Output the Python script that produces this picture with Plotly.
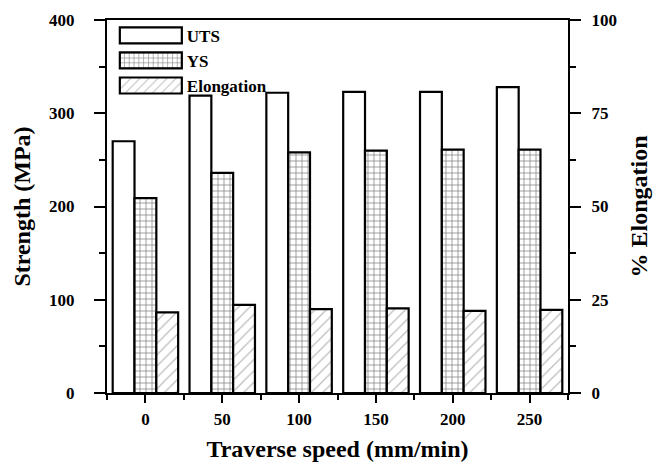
import plotly.graph_objects as go

speeds = [0, 50, 100, 150, 200, 250]
uts = [270, 319, 322, 323, 323, 328]
ys = [209, 236, 258, 260, 261, 261]
elong = [21.6, 23.6, 22.5, 22.7, 22.0, 22.3]

FONT = "Liberation Serif"
bw = 14.2

fig = go.Figure()
fig.add_trace(go.Bar(
    x=speeds, y=uts, name="UTS", width=bw, offset=-1.5 * bw,
    marker=dict(color="white", line=dict(color="black", width=2.2)),
    yaxis="y"))
fig.add_trace(go.Bar(
    x=speeds, y=ys, name="YS", width=bw, offset=-0.5 * bw,
    marker=dict(color="white", line=dict(color="black", width=2.2),
                pattern=dict(shape="+", fgcolor="#111", bgcolor="white", size=6, solidity=0.25)),
    yaxis="y"))
fig.add_trace(go.Bar(
    x=speeds, y=elong, name="Elongation", width=bw, offset=0.5 * bw,
    marker=dict(color="white", line=dict(color="black", width=2.2),
                pattern=dict(shape="/", fgcolor="#777", bgcolor="white", size=8, solidity=0.15)),
    yaxis="y2"))

axis_common = dict(showline=True, linecolor="black", linewidth=2, ticks="outside",
                   tickcolor="black", tickwidth=2, showgrid=False, zeroline=False,
                   automargin=False,
                   tickfont=dict(family=FONT, size=17, color="black", weight="bold"))

fig.update_layout(
    width=660, height=464,
    margin=dict(l=107, r=92, t=20, b=71),
    paper_bgcolor="white", plot_bgcolor="white",
    showlegend=True,
    legend=dict(x=0.017, y=1.006, xanchor="left", yanchor="top", itemwidth=62,
                bgcolor="rgba(0,0,0,0)", font=dict(family=FONT, size=17, color="black", weight="bold"),
                tracegroupgap=0),
    xaxis=dict(**axis_common, range=[-25, 275], tickvals=speeds, ticklen=8, mirror=True,
               ticklabelstandoff=2,
               minor=dict(dtick=25, tick0=0, ticks="outside", ticklen=5, tickwidth=2, tickcolor="black"),
               title=dict(text="Traverse speed (mm/min)", standoff=12,
                          font=dict(family=FONT, size=24, color="black", weight="bold"))),
    yaxis=dict(**axis_common, range=[0, 400], dtick=100, ticklen=11, ticklabelstandoff=16,
               minor=dict(dtick=50, ticks="outside", ticklen=6, tickwidth=2, tickcolor="black"),
               title=dict(text="Strength (MPa)", standoff=12,
                          font=dict(family=FONT, size=24, color="black", weight="bold"))),
    yaxis2=dict(**axis_common, range=[0, 100], dtick=25, ticklen=11, overlaying="y", side="right",
                ticklabelstandoff=7,
                minor=dict(dtick=12.5, ticks="outside", ticklen=6, tickwidth=2, tickcolor="black"),
                title=dict(text="% Elongation", standoff=14,
                           font=dict(family=FONT, size=24, color="black", weight="bold"))),
)

post = """
document.body.style.margin = '0';
var gd = document.getElementById('{plot_id}');
gd.querySelectorAll('.legend .traces .legendpoints path').forEach(function(p){
  p.setAttribute('d', 'M-31,-8H31V8H-31Z');
});
"""

fig.write_html("out.html", post_script=post, config={"displayModeBar": False})
